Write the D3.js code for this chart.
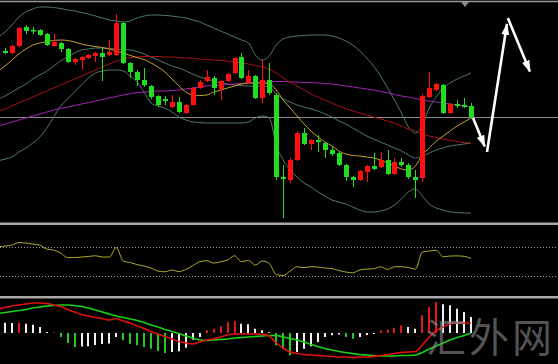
<!DOCTYPE html>
<html>
<head>
<meta charset="utf-8">
<script src="https://cdnjs.cloudflare.com/ajax/libs/d3/7.8.5/d3.min.js"></script>
<style>
  html, body { margin: 0; padding: 0; background: #000; overflow: hidden; }
</style>
</head>
<body>
<svg id="chart" width="558" height="364"></svg>
<script>
// candles, index 0..67
let open  = [179,177,184,203,200,200,196,184,187,181,168,170,172,174,177,175,175,207,167,158,150,144,134,131,123,128,117,125,142,149,152,141,149,157,173,147,154,132,150,135,53,50,70,97,86,90,87,80,77,65,53,50,58,64,63,70,56,68,65,53,52,133,140,145,117,126,125,124]
let close = [177,184,202,199,199,195,185,188,181,168,171,173,175,177,173,178,207,167,158,150,145,133,125,129,128,118,125,142,148,153,142,149,156,172,152,154,132,150,137,53,51,70,97,86,90,88,80,76,65,53,50,59,64,61,70,56,68,65,53,50,134,142,146,117,126,124,123,113]
let high  = [182,185,203,205,203,201,197,196,188,182,172,174,176,178,182,190,216,208,168,160,162,145,135,134,135,133,126,143,150,160,154,150,157,173,177,160,155,170,167,137,65,72,99,102,91,95,88,83,78,66,54,60,65,77,78,80,72,72,67,60,136,158,147,146,127,130,132,127]
let low   = [176,176,183,196,196,194,184,183,178,167,165,160,171,168,149,174,174,166,152,144,143,131,123,125,122,117,116,124,141,148,135,130,148,156,151,146,131,127,135,50,12,47,69,85,80,78,72,74,64,49,43,49,48,60,62,55,55,63,51,32,48,132,139,116,116,122,122,111]

// indicator lines, index -1..67
let maFast  = [159,164,170,176,181,185,187,188.5,189.5,190,189.5,188,186,184.5,183.5,182.5,181,179,177,174.5,172.5,170.5,167,163,158,151,144,138,135,134.5,135,138,140,142,144,146,147,147,147,146,140,130,122,114,106,99,93,88,84,79,76,74.5,74,73,72,70,67,64,61,60,64,75,82,89,94,99,104,108,112]
let maSlow  = [119,121,124,127,130,133,136,139,142,145,148,151,154,157,160,163,166,169,171,172.5,173,173.5,173.5,173.5,173,173,172.5,172,171.5,171,170.5,170,169.5,169,168,167,166,164.5,163,161,157,152,148,144,140,136,133,130,127,124,121.5,119,117,115,113,111,109,107,104,101,99,96,94,92.5,91,89.5,88.5,87.5,87]
let maLong  = [104,106,108,110,112,114,116,118,120,121.5,123,124.5,126,127.5,129,130.5,132,133.5,135,136.5,137.5,138,138.5,139,139,139.5,140,141,142,143,144,144.5,145,145.5,146,146.5,147,147.5,148,148.5,148.5,148.5,148,148,147.5,147.5,147,146.5,146,145,144,143,142,141,140,138.5,137,135.5,134,133,131.5,130,129,128,127,126,125,124,123]
let bbUpper = [193,198,205,213,218,221,223,223,222.5,221.5,220,219,217.5,216,214,212,210,209,208,209,212,214,215,215,214.5,214,213,212,210,208,205,202,199,196,193,190,187,175,170,174,185,191,193,194,194.5,195,195,195,194,192,189,185,179,172,164,154,142,130,117,103,97,105,122,133,142,147,151,154,157]
let bbMid   = [131,134,138,142,146,151,155,159,164,169,173,177,180,181,182,182,181.5,181,180.5,180,178.5,176,173,170,167,164,162,159,156,153,151,149,147,146,145,144.5,144,144,144,143,136,131,128,125,123,121,119,116,113,109,106,102,98,94,91,88,85,82,79,75,72,74,77,80,82,84,85,86,87]
let bbLower = [69,71,73,78,82,87,93,102,113,124,131,138,145,152,157,159,160,160,159,154,148,138,127,124,122,118,113,110,108,107.5,107,107,107,107,107,107,108,112,114,112,85,70,60,53,47,43,38,34,30,28,26,23,20,18,18,19,21,25,31,38,41,34,26,22,20,18,17.5,17,17]

let rsi = [69.6,71.0,72.3,75.8,75.1,73.7,72.3,66.8,65.4,61.3,55.1,55.1,55.8,56.5,57.6,55.8,55.8,68.9,50.3,48.2,45.4,43.4,40.6,36.5,35.5,37.9,35.8,38.6,44.1,49.3,50.7,47.5,49.3,51.7,57.6,49.3,51.2,44.8,50.3,46.8,31.7,30.3,36.5,42.4,41.3,42.4,42.0,40.6,39.9,37.2,35.1,34.1,37.9,39.2,39.5,42.4,38.8,42.4,42.4,41.3,39.2,62.7,64.1,65.0,56.2,57.2,57.4,56.8,54.0]
let rsiLevels = [70, 30]

let macdMain   = [24,25.5,27,28,29,30,30,29.5,28,26.5,23.5,21,18.5,17,15.5,14.5,13,14.5,12,10,7,4.5,1.5,-1,-3.5,-6,-8.5,-10,-11,-9,-7,-6,-4,-2,-1,-1,-1,-1,-1.5,-3,-10,-15,-19,-20.5,-21.5,-22,-22.5,-23,-23.5,-24,-24,-24.5,-24,-24,-23.5,-22.5,-21.5,-20.5,-19.5,-19,-18.5,-12,-4,2,6,9,10,10,10]
let macdSignal = [19.5,20.5,21.5,22.5,23.5,25,26,27,27.5,28,28,27.5,26.5,25,23,21,19,17,15.5,14,12.5,10.5,8,6,3.5,1.5,-0.5,-3,-5,-7,-7.5,-7,-6.5,-6,-5,-4.5,-4,-3.5,-3,-2.5,-2.5,-4,-5.5,-7,-9,-11.5,-13.5,-15.5,-17,-18.5,-19.5,-20.5,-21.5,-22,-22.5,-23,-23,-23,-22.5,-22.5,-22,-19.5,-16,-13,-10,-7,-4.5,-2.5,0]
let macdHist   = [10.3,10.0,10.4,9.3,8.3,6.0,1.0,0.3,-4.0,-10,-14,-13.6,-13.2,-12,-11,-10.5,-4,-7.3,-10.7,-12.3,-14,-15.7,-18,-20,-19,-18.3,-14.7,-6.7,-4,2.7,4.3,6.7,11,12,9.3,8.7,4.3,2.7,0.7,-12.3,-15.7,-22.3,-19,-15.7,-13.3,-9,-4,-2.3,-1.5,-4,-5.7,-4,-2,-1,2.7,3.3,5.3,7.7,6,4.3,17.7,26,31,28.7,27.7,24.3,21,16]

// hand drawn forecast arrow, [bar index, price]
let arrowPoints = [[67.3, 112], [69.3, 78], [72.3, 212], [75.8, 153]]

let watermark = '汇外网'

let svg = d3.select('#chart')
let W = 558, H = 364

svg.append('rect').attr('width', W).attr('height', H).attr('fill', '#000')

let x = d3.scaleLinear().domain([0, 67]).range([5, 471])
let yP = d3.scaleLinear().domain([10, 230]).range([220, 0])
let yR = d3.scaleLinear().domain([0, 100]).range([297.5, 225])
let yM = d3.scaleLinear().domain([-31, 31]).range([364, 302])

let bars = d3.range(0, 68)
let lineIdx = d3.range(-1, 68)

let up = '#ff1010'
let down = '#22dd22'

// frame lines
svg.append('line').attr('x1', 0).attr('x2', W).attr('y1', 1.5).attr('y2', 1.5)
   .attr('stroke', '#9a9a9a').attr('stroke-width', 1.5)
svg.append('rect').attr('x', 0).attr('y', 222.5).attr('width', W).attr('height', 2.5).attr('fill', '#a8a8a8')
svg.append('rect').attr('x', 0).attr('y', 296).attr('width', W).attr('height', 2.5).attr('fill', '#a8a8a8')

// shift marker
svg.append('path').attr('d', 'M461,2 L469,2 L465,7 Z').attr('fill', '#8c8c8c')

let main = svg.append('g')

// last price line
main.append('line')
    .attr('x1', 0).attr('x2', W)
    .attr('y1', Math.round(yP(close[67])) + 0.5).attr('y2', Math.round(yP(close[67])) + 0.5)
    .attr('stroke', '#8a8a8a').attr('stroke-width', 1)

let line = (arr, yScale) => d3.line()
    .x((d, k) => x(lineIdx[k]))
    .y(d => yScale(d))
    .curve(d3.curveMonotoneX)(arr)

let drawLine = (g, arr, yScale, color, w) => {
    g.append('path')
     .attr('d', line(arr, yScale))
     .attr('fill', 'none')
     .attr('stroke', color)
     .attr('stroke-width', w)
}

drawLine(main, bbUpper, yP, '#4f7a68', 1)
drawLine(main, bbMid, yP, '#4f7a68', 1)
drawLine(main, bbLower, yP, '#4f7a68', 1)
drawLine(main, maLong, yP, '#a622b8', 1)
drawLine(main, maSlow, yP, '#a81414', 1)
drawLine(main, maFast, yP, '#c9a030', 1)

// candles
main.selectAll('line.wick')
    .data(bars)
    .enter()
    .append('line')
    .attr('class', 'wick')
    .attr('x1', i => Math.round(x(i)) + 0.5)
    .attr('x2', i => Math.round(x(i)) + 0.5)
    .attr('y1', i => yP(high[i]))
    .attr('y2', i => yP(low[i]))
    .attr('stroke', i => close[i] >= open[i] ? up : down)
    .attr('stroke-width', 1)

main.selectAll('rect.body')
    .data(bars)
    .enter()
    .append('rect')
    .attr('class', 'body')
    .attr('x', i => Math.round(x(i)) - 2)
    .attr('y', i => yP(Math.max(open[i], close[i])))
    .attr('width', 5)
    .attr('height', i => Math.max(1.5, Math.abs(yP(open[i]) - yP(close[i]))))
    .attr('fill', i => close[i] >= open[i] ? up : down)

// arrow
let defs = svg.append('defs')
defs.append('marker')
    .attr('id', 'head')
    .attr('viewBox', '0 0 12 8')
    .attr('refX', 11)
    .attr('refY', 4)
    .attr('markerWidth', 12)
    .attr('markerHeight', 8)
    .attr('markerUnits', 'userSpaceOnUse')
    .attr('orient', 'auto')
    .append('path')
    .attr('d', 'M0,0 L12,4 L0,8 Z')
    .attr('fill', '#fff')

for (let k = 0; k < arrowPoints.length - 1; k++) {
    let x1 = x(arrowPoints[k][0]), y1 = yP(arrowPoints[k][1])
    let x2 = x(arrowPoints[k + 1][0]), y2 = yP(arrowPoints[k + 1][1])
    let len = Math.hypot(x2 - x1, y2 - y1)
    let cut = 6
    svg.append('line')
       .attr('x1', x1).attr('y1', y1)
       .attr('x2', x2 - (x2 - x1) / len * cut).attr('y2', y2 - (y2 - y1) / len * cut)
       .attr('stroke', '#fff')
       .attr('stroke-width', 2.6)
       .attr('marker-end', 'url(#head)')
}

// oscillator panel
let osc = svg.append('g')
osc.selectAll('line.level')
   .data(rsiLevels)
   .enter()
   .append('line')
   .attr('x1', 0).attr('x2', W)
   .attr('y1', d => Math.round(yR(d)) + 0.5)
   .attr('y2', d => Math.round(yR(d)) + 0.5)
   .attr('stroke', '#9a9a9a')
   .attr('stroke-dasharray', '1,2')
drawLine(osc, rsi, yR, '#b0ac2c', 1)

// macd panel
let mac = svg.append('g')
mac.selectAll('line.hist')
   .data(bars)
   .enter()
   .append('line')
   .attr('x1', i => Math.round(x(i)))
   .attr('x2', i => Math.round(x(i)))
   .attr('y1', yM(0))
   .attr('y2', i => yM(macdHist[i]))
   .attr('stroke-width', 2)
   .attr('stroke', i => {
       let v = macdHist[i]
       let prev = i > 0 ? macdHist[i - 1] : v
       if (v >= 0) {
           return v > prev ? '#e01818' : '#f2f2f2'
       } else {
           return v < prev ? '#22cc22' : '#f2f2f2'
       }
   })
drawLine(mac, macdSignal, yM, '#18d018', 1.6)
drawLine(mac, macdMain, yM, '#e01010', 1.6)

// watermark
svg.append('text')
   .attr('x', 426)
   .attr('y', 352)
   .attr('font-family', '"Noto Sans CJK SC", sans-serif')
   .attr('font-size', 40)
   .attr('letter-spacing', 3)
   .attr('fill', 'rgba(140,140,140,0.6)')
   .text(watermark)
</script>
</body>
</html>
